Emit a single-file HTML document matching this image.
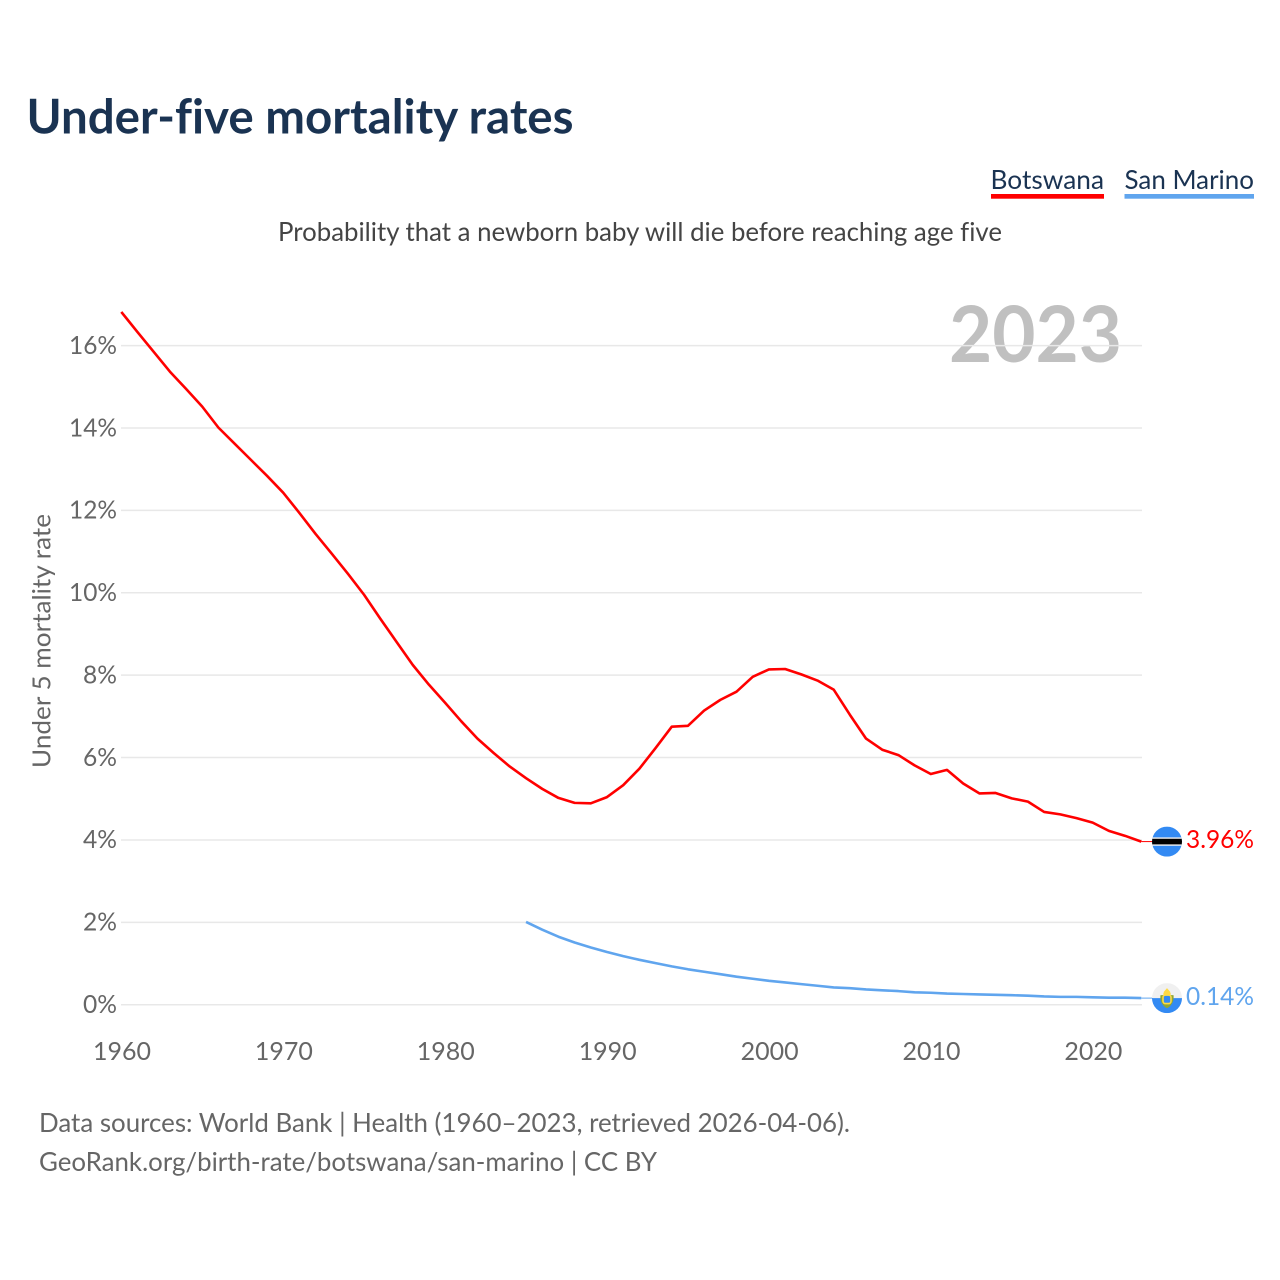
<!DOCTYPE html>
<html lang="en">
<head>
<meta charset="utf-8">
<title>Under-five mortality rates</title>
<style>
html,body{margin:0;padding:0;background:#fff;width:1280px;height:1280px;overflow:hidden}
svg{display:block}
text{font-family:"Lato","Carlito","Liberation Sans",sans-serif;font-variant-ligatures:none;font-feature-settings:"liga" 0}
</style>
</head>
<body>
<svg id="chart" xmlns="http://www.w3.org/2000/svg" width="1280" height="1280" viewBox="0 0 1280 1280">
  <text x="26.5" y="133.5" font-size="47.5" font-weight="700" fill="#1a3352" textLength="547" lengthAdjust="spacingAndGlyphs">Under-five mortality rates</text>

  <g>
    <text x="990.5" y="189" font-size="26.5" fill="#1a3352" textLength="113.5" lengthAdjust="spacingAndGlyphs">Botswana</text>
    <rect x="991" y="194" width="113" height="4.7" fill="#ff0000"/>
  </g>
  <g>
    <text x="1124.5" y="189" font-size="26.5" fill="#1a3352" textLength="129.5" lengthAdjust="spacingAndGlyphs">San Marino</text>
    <rect x="1124.5" y="194" width="129.5" height="4.7" fill="#60a5ee"/>
  </g>

  <text x="278" y="241" font-size="26.5" fill="#444444" textLength="724" lengthAdjust="spacingAndGlyphs">Probability that a newborn baby will die before reaching age five</text>

  <text x="949" y="362" font-size="78" font-weight="700" fill="#c0c0c0" textLength="173" lengthAdjust="spacingAndGlyphs">2023</text>

  <g id="grid"></g>
  <g id="y-ticks"></g>
  <g id="x-ticks"></g>

  <text transform="translate(50.5 641) rotate(-90)" text-anchor="middle" font-size="25.5" fill="#666666" textLength="254" lengthAdjust="spacingAndGlyphs">Under 5 mortality rate</text>

  <g id="series"></g>

  <defs>
    <clipPath id="flag-clip"><circle cx="0" cy="0" r="15"/></clipPath>
  </defs>

  <g id="flag-botswana">
    <g clip-path="url(#flag-clip)">
      <rect x="-15" y="-15" width="30" height="30" fill="#338af3"/>
      <rect x="-15" y="-4.2" width="30" height="8.4" fill="#f0f0f0"/>
      <rect x="-15" y="-2.8" width="30" height="5.6" fill="#000000"/>
    </g>
  </g>
  <g id="flag-san-marino">
    <g clip-path="url(#flag-clip)">
      <rect x="-15" y="-15" width="30" height="15" fill="#f0f0f0"/>
      <rect x="-15" y="0" width="30" height="15" fill="#338af3"/>
      <path d="M-6.5 -3 C-7.5 4 -3 9 0 10 C3 9 7.5 4 6.5 -3 L3.5 -3 L3.5 2 L-3.5 2 L-3.5 -3 Z" fill="#8fa635"/>
      <rect x="-4" y="-3" width="8" height="8.5" rx="2.5" fill="#338af3" stroke="#ffda44" stroke-width="1.6"/>
      <path d="M-4 -3.5 L-3 -6.5 L0 -10 L3 -6.5 L4 -3.5 Z" fill="#ffda44"/>
    </g>
  </g>

  <text id="value-botswana" x="1186" font-size="25.5" fill="#ff0000" textLength="68" lengthAdjust="spacingAndGlyphs"></text>
  <text id="value-san-marino" x="1186" font-size="25.5" fill="#60a5ee" textLength="68" lengthAdjust="spacingAndGlyphs"></text>

  <text x="39" y="1132" font-size="26.5" fill="#666666" textLength="811" lengthAdjust="spacingAndGlyphs">Data sources: World Bank | Health (1960–2023, retrieved 2026-04-06).</text>
  <text x="39" y="1171" font-size="26.5" fill="#666666" textLength="618" lengthAdjust="spacingAndGlyphs">GeoRank.org/birth-rate/botswana/san-marino | CC BY</text>
</svg>

<script>
const botswanaStartYear = 1960;
const botswanaValues = [16.82,16.33,15.85,15.37,14.95,14.52,14.01,13.62,13.23,12.84,12.43,11.94,11.43,10.95,10.46,9.95,9.37,8.81,8.25,7.77,7.33,6.88,6.46,6.11,5.78,5.50,5.24,5.02,4.90,4.89,5.04,5.33,5.73,6.23,6.75,6.77,7.14,7.40,7.60,7.96,8.14,8.15,8.02,7.87,7.65,7.04,6.46,6.19,6.06,5.81,5.60,5.70,5.37,5.13,5.14,5.01,4.93,4.68,4.62,4.53,4.42,4.22,4.10,3.96];
const sanMarinoStartYear = 1985;
const sanMarinoValues = [2.01,1.82,1.65,1.51,1.39,1.28,1.18,1.09,1.01,0.93,0.86,0.80,0.74,0.68,0.63,0.58,0.54,0.50,0.46,0.42,0.40,0.37,0.35,0.33,0.30,0.29,0.27,0.26,0.25,0.24,0.23,0.22,0.20,0.19,0.19,0.18,0.17,0.17,0.16];
const yTickValues = [0,2,4,6,8,10,12,14,16];
const yTickLabels = ['0%','2%','4%','6%','8%','10%','12%','14%','16%'];
const xTickYears = [1960,1970,1980,1990,2000,2010,2020];
const xTickLabels = ['1960','1970','1980','1990','2000','2010','2020'];
const latestLabels = ['3.96%','0.14%'];

const NS = 'http://www.w3.org/2000/svg';
const xScale = function (year) { return 121.3 + (year - 1960) * 16.19; };
const yScale = function (value) { return 1004.7 - value * 41.19; };
const GRID_LEFT = 121;
const GRID_RIGHT = 1142;
const grid = document.getElementById('grid');
const yTicks = document.getElementById('y-ticks');
const xTicks = document.getElementById('x-ticks');
const series = document.getElementById('series');

yTickValues.forEach(function (v, i) {
  const line = document.createElementNS(NS, 'line');
  
  
  line.setAttribute('x1', GRID_LEFT);
  line.setAttribute('x2', GRID_RIGHT);
  line.setAttribute('y1', yScale(v));
  line.setAttribute('y2', yScale(v));
  line.setAttribute('stroke', '#e8e8e8');
  line.setAttribute('stroke-width', '1.5');
  grid.appendChild(line);

  const label = document.createElementNS(NS, 'text');
  
  
  label.setAttribute('x', 117);
  label.setAttribute('y', yScale(v) + 8.3);
  label.setAttribute('text-anchor', 'end');
  label.setAttribute('font-size', '25.5');
  label.setAttribute('fill', '#666666');
  label.setAttribute('textLength', yTickLabels[i].length === 3 ? 48 : 34);
  label.setAttribute('lengthAdjust', 'spacingAndGlyphs');
  label.textContent = yTickLabels[i];
  yTicks.appendChild(label);
});

xTickYears.forEach(function (year, i) {
  const label = document.createElementNS(NS, 'text');
  
  
  label.setAttribute('x', xScale(year) + 0.7);
  label.setAttribute('y', 1060);
  label.setAttribute('text-anchor', 'middle');
  label.setAttribute('font-size', '25.5');
  label.setAttribute('fill', '#666666');
  label.setAttribute('textLength', 58);
  label.setAttribute('lengthAdjust', 'spacingAndGlyphs');
  label.textContent = xTickLabels[i];
  xTicks.appendChild(label);
});

function linePath(startYear, values) {
  return values.map(function (v, i) {
    return (i ? 'L' : 'M') + xScale(startYear + i).toFixed(2) + ' ' + yScale(v).toFixed(2);
  }).join(' ');
}

const botswanaLine = document.createElementNS(NS, 'path');


botswanaLine.setAttribute('d', linePath(botswanaStartYear, botswanaValues));
botswanaLine.setAttribute('fill', 'none');
botswanaLine.setAttribute('stroke', '#ff0000');
botswanaLine.setAttribute('stroke-width', '2.6');
botswanaLine.setAttribute('stroke-linejoin', 'round');
series.appendChild(botswanaLine);

const sanMarinoLine = document.createElementNS(NS, 'path');


sanMarinoLine.setAttribute('d', linePath(sanMarinoStartYear, sanMarinoValues));
sanMarinoLine.setAttribute('fill', 'none');
sanMarinoLine.setAttribute('stroke', '#60a5ee');
sanMarinoLine.setAttribute('stroke-width', '2.6');
sanMarinoLine.setAttribute('stroke-linejoin', 'round');
series.appendChild(sanMarinoLine);

const lastBotswana = botswanaValues[botswanaValues.length - 1];
const lastSanMarino = sanMarinoValues[sanMarinoValues.length - 1];
const lastX = xScale(botswanaStartYear + botswanaValues.length - 1);

const connectorBotswana = document.createElementNS(NS, 'line');


connectorBotswana.setAttribute('x1', lastX);
connectorBotswana.setAttribute('x2', 1153);
connectorBotswana.setAttribute('y1', yScale(lastBotswana));
connectorBotswana.setAttribute('y2', yScale(lastBotswana));
connectorBotswana.setAttribute('stroke', '#ff0000');
connectorBotswana.setAttribute('stroke-width', '1');
series.appendChild(connectorBotswana);

const connectorSanMarino = document.createElementNS(NS, 'line');


connectorSanMarino.setAttribute('x1', lastX);
connectorSanMarino.setAttribute('x2', 1153);
connectorSanMarino.setAttribute('y1', yScale(lastSanMarino));
connectorSanMarino.setAttribute('y2', yScale(lastSanMarino));
connectorSanMarino.setAttribute('stroke', '#60a5ee');
connectorSanMarino.setAttribute('stroke-width', '1');
series.appendChild(connectorSanMarino);

document.getElementById('flag-botswana').setAttribute('transform', 'translate(1167 ' + yScale(lastBotswana) + ')');
document.getElementById('flag-san-marino').setAttribute('transform', 'translate(1167 ' + yScale(lastSanMarino) + ')');

const valueBotswana = document.getElementById('value-botswana');
valueBotswana.setAttribute('y', yScale(lastBotswana) + 6.5);
valueBotswana.textContent = latestLabels[0];
const valueSanMarino = document.getElementById('value-san-marino');
valueSanMarino.setAttribute('y', yScale(lastSanMarino) + 7);
valueSanMarino.textContent = latestLabels[1];
</script>
</body>
</html>
